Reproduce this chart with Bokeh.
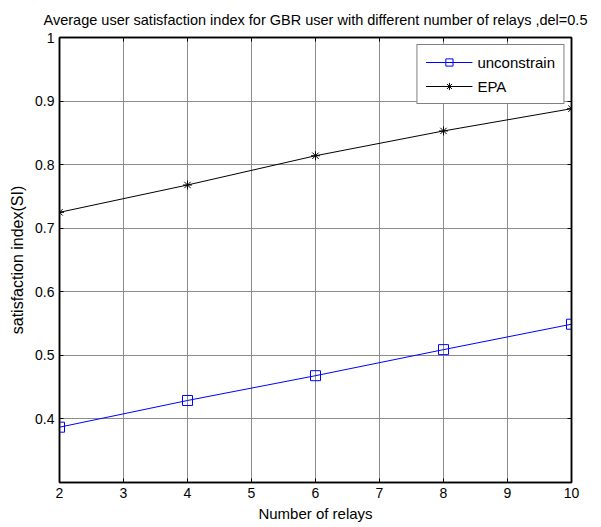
from bokeh.plotting import figure
from bokeh.models import LinearAxis, FixedTicker, Range1d, Legend, LegendItem, Title
from bokeh.embed import file_html
from bokeh.resources import INLINE

relays = [2, 4, 6, 8, 10]
unconstrain = [0.387, 0.429, 0.468, 0.509, 0.549]
epa = [0.725, 0.768, 0.814, 0.853, 0.888]

x_ticks = [2, 3, 4, 5, 6, 7, 8, 9, 10]
y_ticks = [0.3, 0.4, 0.5, 0.6, 0.7, 0.8, 0.9, 1.0]
y_labels = {0.3: "", 0.4: "0.4", 0.5: "0.5", 0.6: "0.6", 0.7: "0.7", 0.8: "0.8", 0.9: "0.9", 1.0: "1"}

FONT = "Liberation Sans"

p = figure(width=601, height=527, output_backend="svg", toolbar_location=None,
           x_range=Range1d(2, 10), y_range=Range1d(0.3, 1.0),
           min_border_left=59, min_border_right=30, min_border_top=7, min_border_bottom=45,
           x_axis_location=None, y_axis_location=None)
p.outline_line_color = "black"
p.outline_line_width = 1.5

def style_axis(ax, labels=True):
    ax.major_tick_in = 4
    ax.major_tick_out = 0
    ax.minor_tick_in = 0
    ax.minor_tick_out = 0
    ax.axis_line_color = "black"
    ax.axis_line_width = 1.5
    ax.major_tick_line_color = "black"
    ax.major_label_text_font = FONT
    ax.major_label_text_font_size = "14px"
    ax.major_label_text_color = "black"
    ax.axis_label_text_font = FONT
    ax.axis_label_text_font_size = "15px"
    ax.axis_label_text_font_style = "normal"
    ax.axis_label_text_color = "black"
    if not labels:
        ax.major_label_text_alpha = 0
        ax.major_label_standoff = 0

xt_labels = {t: "" for t in x_ticks}
yt_labels = {t: "" for t in y_ticks}

xt = LinearAxis(ticker=FixedTicker(ticks=x_ticks), major_label_overrides=xt_labels)
style_axis(xt, labels=False)
p.add_layout(xt, "above")

title = Title(text="Average user satisfaction index for GBR user with different number of relays ,del=0.5",
              align="center", text_font=FONT, text_font_size="14.5px", text_font_style="normal",
              text_color="black", offset=12, standoff=19)
p.add_layout(title, "above")

xb = LinearAxis(ticker=FixedTicker(ticks=x_ticks), axis_label="Number of relays")
style_axis(xb)
xb.major_label_standoff = 5
xb.axis_label_standoff = 4
p.add_layout(xb, "below")

yl = LinearAxis(ticker=FixedTicker(ticks=y_ticks), axis_label="satisfaction index(SI)",
                major_label_overrides=y_labels)
style_axis(yl)
yl.axis_label_text_font_size = "16px"
yl.major_label_standoff = 5
yl.axis_label_standoff = 6
p.add_layout(yl, "left")

yr = LinearAxis(ticker=FixedTicker(ticks=y_ticks), major_label_overrides=yt_labels)
style_axis(yr, labels=False)
p.add_layout(yr, "right")

p.xgrid.ticker = FixedTicker(ticks=x_ticks)
p.ygrid.ticker = FixedTicker(ticks=y_ticks)
for g in (p.xgrid, p.ygrid):
    g.grid_line_color = "#7f7f7f"
    g.grid_line_width = 1
    g.grid_line_alpha = 0.9

l1 = p.line(relays, unconstrain, line_color="#0000ff", line_width=1)
m1 = p.scatter(relays, unconstrain, marker="square", size=10, fill_color=None,
               line_color="#0000ff", line_width=1)
l2 = p.line(relays, epa, line_color="black", line_width=1)
m2 = p.scatter(relays, epa, marker="asterisk", size=9, line_color="black", line_width=1)

legend = Legend(items=[LegendItem(label="unconstrain", renderers=[l1, m1]),
                       LegendItem(label="EPA", renderers=[l2, m2])],
                location="top_right")
legend.label_text_font = FONT
legend.label_text_font_size = "15px"
legend.label_text_color = "black"
legend.border_line_color = "black"
legend.border_line_width = 1
legend.background_fill_color = "white"
legend.background_fill_alpha = 1
legend.glyph_width = 47
legend.glyph_height = 18
legend.label_height = 18
legend.label_standoff = 5
legend.spacing = 6
legend.padding = 8
legend.margin = 7
p.add_layout(legend)

open("out.html", "w").write(file_html(p, INLINE))
